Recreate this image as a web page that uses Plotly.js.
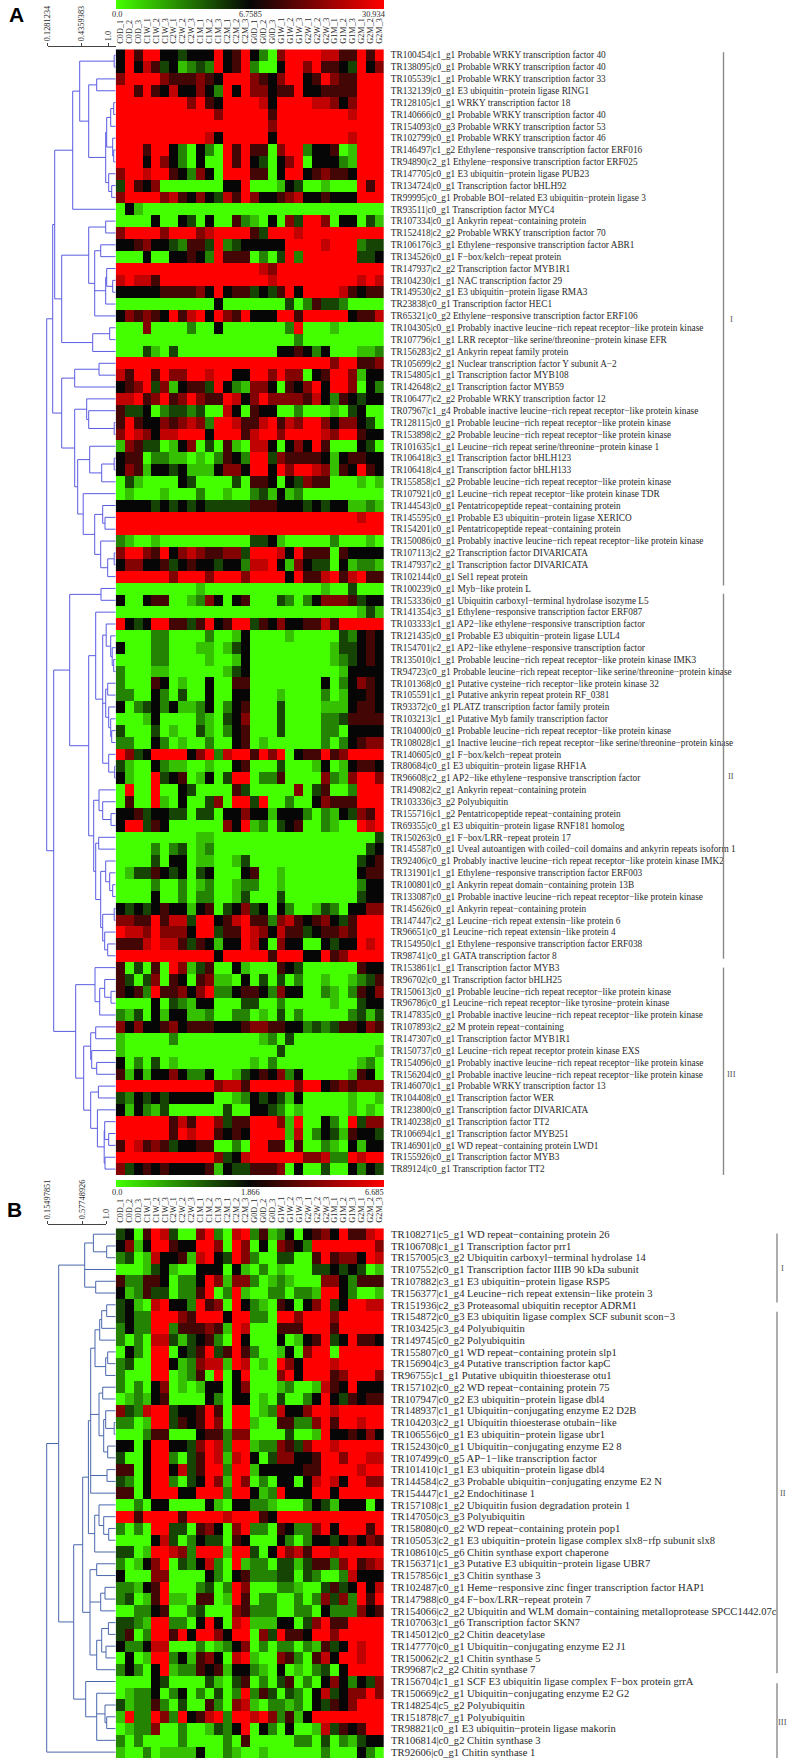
<!DOCTYPE html>
<html><head><meta charset="utf-8">
<script src="https://cdn.plot.ly/plotly-3.0.1.min.js"></script>
<style>html,body{margin:0;padding:0;background:#fff}#c{width:787px;height:1760px}</style>
</head><body><div id="c"></div>
<script>
const sampleNames=["C0D_1","C0D_2","C0D_3","C1W_1","C1W_2","C1W_3","C2W_1","C2W_2","C2W_3","C1M_1","C1M_2","C1M_3","C2M_1","C2M_2","C2M_3","G0D_1","G0D_2","G0D_3","G1W_1","G1W_2","G1W_3","G2W_1","G2W_2","G2W_3","G1M_1","G1M_2","G1M_3","G2M_1","G2M_2","G2M_3"];

const genesA=["TR100454|c1_g1 Probable WRKY transcription factor 40","TR138095|c0_g1 Probable WRKY transcription factor 40","TR105539|c1_g1 Probable WRKY transcription factor 33","TR132139|c0_g1 E3 ubiquitin-protein ligase RING1","TR128105|c1_g1 WRKY transcription factor 18","TR140666|c0_g1 Probable WRKY transcription factor 40","TR154093|c0_g3 Probable WRKY transcription factor 53","TR102799|c0_g1 Probable WRKY transcription factor 46","TR146497|c1_g2 Ethylene-responsive transcription factor ERF016","TR94890|c2_g1 Ethylene-responsive transcription factor ERF025","TR147705|c0_g1 E3 ubiquitin-protein ligase PUB23","TR134724|c0_g1 Transcription factor bHLH92","TR99995|c0_g1 Probable BOI-related E3 ubiquitin-protein ligase 3","TR93511|c0_g1 Transcription factor MYC4","TR107334|c0_g1 Ankyrin repeat-containing protein","TR152418|c2_g2 Probable WRKY transcription factor 70","TR106176|c3_g1 Ethylene-responsive transcription factor ABR1","TR134526|c0_g1 F-box/kelch-repeat protein","TR147937|c2_g2 Transcription factor MYB1R1","TR104230|c1_g1 NAC transcription factor 29","TR149530|c2_g1 E3 ubiquitin-protein ligase RMA3","TR23838|c0_g1 Transcription factor HEC1","TR65321|c0_g2 Ethylene-responsive transcription factor ERF106","TR104305|c0_g1 Probably inactive leucine-rich repeat receptor-like protein kinase","TR107796|c1_g1 LRR receptor-like serine/threonine-protein kinase EFR","TR156283|c2_g1 Ankyrin repeat family protein","TR105699|c2_g1 Nuclear transcription factor Y subunit A-2","TR154805|c1_g1 Transcription factor MYB108","TR142648|c2_g1 Transcription factor MYB59","TR106477|c2_g2 Probable WRKY transcription factor 12","TR07967|c1_g4 Probable inactive leucine-rich repeat receptor-like protein kinase","TR128115|c0_g1 Probable leucine-rich repeat receptor-like protein kinase","TR153898|c2_g2 Probable leucine-rich repeat receptor-like protein kinase","TR101635|c1_g1 Leucine-rich repeat serine/threonine-protein kinase 1","TR106418|c3_g1 Transcription factor bHLH123","TR106418|c4_g1 Transcription factor bHLH133","TR155858|c1_g2 Probable leucine-rich repeat receptor-like protein kinase","TR107921|c0_g1 Leucine-rich repeat receptor-like protein kinase TDR","TR144543|c0_g1 Pentatricopeptide repeat-containing protein","TR145595|c0_g1 Probable E3 ubiquitin-protein ligase XERICO","TR154201|c0_g1 Pentatricopeptide repeat-containing protein","TR150086|c0_g1 Probably inactive leucine-rich repeat receptor-like protein kinase","TR107113|c2_g2 Transcription factor DIVARICATA","TR147937|c2_g1 Transcription factor DIVARICATA","TR102144|c0_g1 Sel1 repeat protein","TR100239|c0_g1 Myb-like protein L","TR153336|c0_g1 Ubiquitin carboxyl-terminal hydrolase isozyme L5","TR141354|c3_g1 Ethylene-responsive transcription factor ERF087","TR103333|c1_g1 AP2-like ethylene-responsive transcription factor","TR121435|c0_g1 Probable E3 ubiquitin-protein ligase LUL4","TR154701|c2_g1 AP2-like ethylene-responsive transcription factor","TR135010|c1_g1 Probable leucine-rich repeat receptor-like protein kinase IMK3","TR94723|c0_g1 Probable leucine-rich repeat receptor-like serine/threonine-protein kinase","TR101368|c0_g1 Putative cysteine-rich receptor-like protein kinase 32","TR105591|c1_g1 Putative ankyrin repeat protein RF_0381","TR93372|c0_g1 PLATZ transcription factor family protein","TR103213|c1_g1 Putative Myb family transcription factor","TR104000|c0_g1 Probable leucine-rich repeat receptor-like protein kinase","TR108028|c1_g1 Inactive leucine-rich repeat receptor-like serine/threonine-protein kinase","TR140605|c0_g1 F-box/kelch-repeat protein","TR80684|c0_g1 E3 ubiquitin-protein ligase RHF1A","TR96608|c2_g1 AP2-like ethylene-responsive transcription factor","TR149082|c2_g1 Ankyrin repeat-containing protein","TR103336|c3_g2 Polyubiquitin","TR155716|c1_g2 Pentatricopeptide repeat-containing protein","TR69355|c0_g1 E3 ubiquitin-protein ligase RNF181 homolog","TR150263|c0_g1 F-box/LRR-repeat protein 17","TR145587|c0_g1 Uveal autoantigen with coiled-coil domains and ankyrin repeats isoform 1","TR92406|c0_g1 Probably inactive leucine-rich repeat receptor-like protein kinase IMK2","TR131901|c1_g1 Ethylene-responsive transcription factor ERF003","TR100801|c0_g1 Ankyrin repeat domain-containing protein 13B","TR133087|c0_g1 Probable inactive leucine-rich repeat receptor-like protein kinase","TR145626|c0_g1 Ankyrin repeat-containing protein","TR147447|c2_g1 Leucine-rich repeat extensin-like protein 6","TR96651|c0_g1 Leucine-rich repeat extensin-like protein 4","TR154950|c1_g1 Ethylene-responsive transcription factor ERF038","TR98741|c0_g1 GATA transcription factor 8","TR153861|c1_g1 Transcription factor MYB3","TR96702|c0_g1 Transcription factor bHLH25","TR150613|c0_g1 Probable leucine-rich repeat receptor-like protein kinase","TR96786|c0_g1 Leucine-rich repeat receptor-like tyrosine-protein kinase","TR147835|c0_g1 Probable inactive leucine-rich repeat receptor-like protein kinase","TR107893|c2_g2 M protein repeat-containing","TR147307|c0_g1 Transcription factor MYB1R1","TR150737|c0_g1 Leucine-rich repeat receptor protein kinase EXS","TR154096|c0_g1 Probably inactive leucine-rich repeat receptor-like protein kinase","TR156204|c0_g1 Probable inactive leucine-rich repeat receptor-like protein kinase","TR146070|c1_g1 Probable WRKY transcription factor 13","TR104408|c0_g1 Transcription factor WER","TR123800|c0_g1 Transcription factor DIVARICATA","TR140238|c0_g1 Transcription factor TT2","TR106694|c1_g1 Transcription factor MYB251","TR146901|c0_g1 WD repeat-containing protein LWD1","TR155926|c0_g1 Transcription factor MYB3","TR89124|c0_g1 Transcription factor TT2"];

const genesB=["TR108271|c5_g1 WD repeat-containing protein 26","TR106708|c1_g1 Transcription factor prr1","TR157005|c3_g2 Ubiquitin carboxyl-terminal hydrolase 14","TR107552|c0_g1 Transcription factor IIIB 90 kDa subunit","TR107882|c3_g1 E3 ubiquitin-protein ligase RSP5","TR156377|c1_g4 Leucine-rich repeat extensin-like protein 3","TR151936|c2_g3 Proteasomal ubiquitin receptor ADRM1","TR154872|c0_g3 E3 ubiquitin ligase complex SCF subunit scon-3","TR103425|c3_g4 Polyubiquitin","TR149745|c0_g2 Polyubiquitin","TR155807|c0_g1 WD repeat-containing protein slp1","TR156904|c3_g4 Putative transcription factor kapC","TR96755|c1_g1 Putative ubiquitin thioesterase otu1","TR157102|c0_g2 WD repeat-containing protein 75","TR107947|c0_g2 E3 ubiquitin-protein ligase dbl4","TR148937|c1_g1 Ubiquitin-conjugating enzyme E2 D2B","TR104203|c2_g1 Ubiquitin thioesterase otubain-like","TR106556|c0_g1 E3 ubiquitin-protein ligase ubr1","TR152430|c0_g1 Ubiquitin-conjugating enzyme E2 8","TR107499|c0_g5 AP-1-like transcription factor","TR101410|c1_g1 E3 ubiquitin-protein ligase dbl4","TR144584|c2_g3 Probable ubiquitin-conjugating enzyme E2 N","TR154447|c1_g2 Endochitinase 1","TR157108|c1_g2 Ubiquitin fusion degradation protein 1","TR147050|c3_g3 Polyubiquitin","TR158080|c0_g2 WD repeat-containing protein pop1","TR105053|c2_g1 E3 ubiquitin-protein ligase complex slx8-rfp subunit slx8","TR108610|c5_g6 Chitin synthase export chaperone","TR156371|c1_g3 Putative E3 ubiquitin-protein ligase UBR7","TR157856|c1_g3 Chitin synthase 3","TR102487|c0_g1 Heme-responsive zinc finger transcription factor HAP1","TR147988|c0_g4 F-box/LRR-repeat protein 7","TR154066|c2_g2 Ubiquitin and WLM domain-containing metalloprotease SPCC1442.07c","TR107063|c1_g6 Transcription factor SKN7","TR145012|c0_g2 Chitin deacetylase","TR147770|c0_g1 Ubiquitin-conjugating enzyme E2 J1","TR150062|c2_g1 Chitin synthase 5","TR99687|c2_g2 Chitin synthase 7","TR156704|c1_g1 SCF E3 ubiquitin ligase complex F-box protein grrA","TR150669|c2_g1 Ubiquitin-conjugating enzyme E2 G2","TR148254|c5_g2 Polyubiquitin","TR151878|c7_g1 Polyubiquitin","TR98821|c0_g1 E3 ubiquitin-protein ligase makorin","TR106814|c0_g2 Chitin synthase 3","TR92606|c0_g1 Chitin synthase 1"];

// expression levels per gene and sample: 0 = lowest (green), 4 = middle (black), 8 = highest (red)
const levelsA=[
"485884434448458420688887755858","484753412328458200488685543846","688886555654888654688458655888","885854744642848664558445555888",
"888888886854888874888877646888","888888888886888885888888887888","888888888888888886888888888888","888888888874888884888888887888",
"888588420420858550688244501888","888486420400858430468044421888","688788542640888550488456554888","385460000000448000143001000858",
"688886754643758644567445444888","041000000000000000000000000000","000040043040052104063886044031","688886888678888538887888888888",
"445644325538234444488887888233","000400445428555020382888888334","888888888888888876888888888888","787758888888888887888888888787",
"444445555648455343584888875455","000000000004000000030253320000","465654857848658444885888884557","000600002004000000028000100000",
"000000000000000000002000000000","000310300000000000445424000112","888888888888888888888888688556","758858668878844886866045886144",
"456836145538421664054684886042","778568568655874686666574254344","533402332300740544002000103400","585446567628875578576886466430",
"687647788848885788688887688544","165330146030510774046485000430","455022110102542883655554145544","465144341114664884868876154854",
"031000043000030554043655000101","010001000200100231412000000000","444434343433333555444343441121","888888888888888888888888888788",
"888888888888888888888888888888","210010000000000334100000200010","688658467655663888748555054444","466445345443442778416433041221",
"888888688868886888848557857855","000000000100000000000001003000","400455001264045000320246665344","000000000000000000000000000131",
"843488553584588354644557588888","000022000020014000010000032454","400022000110134000000000133454","000022000010014000000000123454",
"200011000000134000000000014444","200054010040055000000004024654","220042030040044000100002014454","402342411240245000300001114554",
"000140000210346000300002235555","300030100310245000300002204444","220042010020045010000002024566","863488884682788586804558568888",
"310042110010045000300014014554","410083450140388022500006216886","080080043000053000006035002888","050081040036088380020046555888",
"445344330330446441444202143658","488354000000648120345002100878","000000000110000000000000000003","000020230120000000000000000034",
"000030440110013000000000000345","013354340340004500100000000455","000020020120012200100000000244","000040020220013000300000000344",
"434345441450346340420013204466","665585773884578552675456435888","877686664883558764755345565888","555787753541448740644004344878",
"888888888884888885888448568888","503050861350041000543000000544","530360540561104030302001001235","545285564682245542644002102546",
"000040321440003300200000100344","213041441120022010302000002313","646445645554445665544232355465","100000200000000012030000000000",
"100000000000000000300000000001","402030100000000102000000000120","514144642240013454624000001540","888888888886775888886884565666",
"324343444440012434314000001001","414213000000300443201000001010","888888575886355888618004208366","888888587885454888817024315443",
"587565344550020885505002104144","888888888886347888888667228788","634545444451433555604003004243"];

const levelsB=[
"340587300682078251240456485578","461488544886086040654288888886","230174451784386200330058566487","000134100444041020100033434301",
"522554022486166201210006642555","412533022580281002202218842001","341078442856084210540468348877","342288865888488220886888688888",
"242288255565187000555888588888","202077313452084000401458348554","042088043583585200140688088888","230088412677187010864888788888",
"200088012508048000684888568886","202046010144046000120017548444","012145000042044010300248435455","632788344585088012744688788888",
"220188354586088100552268588788","000255000455266000030018445464","440488443687288122653688788888","300488203587178403664458868877",
"550488473588288144444558888788","320488203486186020440478748866","550488844888288412844488488888","002044000041044221000243144404",
"885888858888788854888888888888","202088330564068220542268488858","000047302433054000420244346465","330188762888188304867588788888",
"201468032472081220331355268567","400066000042045222330320027444","221458000230286000221003534847","230158110550185022002026362858",
"002245002300065222002204222645","332188220484078111440368558888","350288584886488063855488688888","422477000201246020220215348788",
"040188241564078100652057488788","242048122545144210401023048888","000043000031035020350204642436","012240240203028253032047346686",
"312252030052067102212043546888","182286284578288786251488888888","012260020013248042040017354588","202000020000205000002203021344",
"100201111400210010000002000420"];

// dendrograms: [merge height, child, child, ...]; a plain number is a gene index
const treeA=[69,
 [63,
  [61,
   [43,[36,[1.5,0,1],[27,[19,2,3],[10,[9,[5,[2,4,5],6],[3,7,[2,8,9]]],[7,10,[4,11,12]]]]],13],
   [54,[27,[10,14,15],[21,[15,16,17],[10,[9,18,[3,19,20]],21],22]],[23,[6,23,24],25]]],
  [54,[41,[16.7,26,27],28],
   [41,[29,29,[27,30,[1.5,31,32]]],
    [38,[26,33,[14,[1.5,34,35],36]],
     [32.5,37,[21,[13,38,[10.7,39,40]],[15,41,[8,[1.5,42,43],44]]]]]]]],
 [62,
  [46,[14.7,45,46],
   [27,[20,47,[13,[9.5,48,[5,49,[3.5,50,[2,51,52]]]],[10,[8,53,54],[7,55,[5,56,[4,57,58]]]],[7,59,[1,60,61]]]],
    [22,[16.7,62,[13,63,[4.7,64,65]]],
     [20,[17,66,67],[15,[10,68,[6,69,[3,70,71]]],[13,[1.5,72,73],[11,74,[8,75,76]]]]]]]],
  [40,[20.7,77,[16,[11,78,[4.7,79,80]],81]],
   [32,[25,[20,82,83],[24,84,[19,85,86]]],
    [25,[17.3,87,88],[18.3,89,[11.5,[11,90,[7,91,92]],[10.7,93,94]]]]]]]];
const treeB=[69,
 [57,
  [31,[22.3,0,[9,1,2]],3,[20,4,5]],
  [42,
   [33,
    [27.3,
     [25,[20.7,[16,[14,[9,6,7],8],9],[10,[8,10,11],12]],[16.7,[13,13,14],[12,[10,15,[1.5,16,17]],[8,18,19]]],[8.7,20,21],22],
     [21,[16.7,23,[12,24,[7,25,26]]],27]],
    [25.7,[19,28,29],[15,[10.7,30,31],32],[19,[14,[7.3,33,34],[9.7,35,36]],37]]],
   [30,38,[19,39,[10.7,40,[9,41,42]],43]]]],
 44];

const colorTicksA=["0.0","6.7585","30.934"];
const colorTicksB=["0.0","1.866","6.685"];
const scaleTicksA=["0.1281234","0.4359383","1.0"];
const scaleTicksB=["0.15497851","0.57748926","1.0"];
const clustersA=[["I",-0.25,44.75],["II",45.45,76.25],["III",77,94.95]];
const clustersB=[["I",-0.05,5.8],["II",6.6,37.3],["III",38.15,44.8]];

const W=787,H=1760;
const px=v=>v/W, py=v=>1-v/H;
const SERIF='"Liberation Serif","Times New Roman",serif';
const TXT='#2a2a2a';
const cs=[[0,'#44ff00'],[0.5,'#060606'],[1,'#ff0000']];
const show=s=>s.replace(/-/g,'\u2212');

function segs(tree){
  const xs=[],ys=[];
  (function walk(n){
    if(typeof n==='number') return {y:n,h:0};
    const h=n[0], rs=n.slice(1).map(walk);
    rs.forEach(r=>{xs.push(r.h,h,null);ys.push(r.y,r.y,null);});
    const a=rs[0].y,b=rs[rs.length-1].y;
    xs.push(h,h,null);ys.push(a,b,null);
    return {y:(a+b)/2,h};
  })(tree);
  return {x:xs,y:ys};
}
const grid=rows=>rows.map(r=>Array.from({length:30},(_,i)=>Number(r[i])));

function panel(o){
  const ax=o.n, xH='x'+(ax===1?'':ax), yH='y'+(ax===1?'':ax);
  const xD='x'+(ax+1), xS='x'+(ax+2), yS='y'+(ax+2);
  const rows=o.levels.length;
  const domY=[py(o.bottom),py(o.top)];
  const d=segs(o.tree);
  const traces=[
   {type:'heatmap',z:grid(o.levels),x:sampleNames,y:o.genes.map((_,i)=>i),xaxis:xH,yaxis:yH,
    colorscale:cs,zmin:0,zmax:8,hoverinfo:'skip',xgap:0,ygap:0,
    colorbar:{orientation:'h',lenmode:'pixels',len:268.3,thicknessmode:'pixels',thickness:o.barH,
      x:px(115.7),xanchor:'left',y:py(o.barTop+o.barH),yanchor:'bottom',xpad:0,ypad:0,
      outlinewidth:0,showticklabels:false,ticks:''}},
   {type:'scatter',mode:'lines',x:d.x,y:d.y,xaxis:xD,yaxis:yH,hoverinfo:'skip',showlegend:false,
    line:{color:o.treeColor,width:1}},
   {type:'scatter',mode:'lines',x:o.scaleVals,y:[0,0,0],xaxis:xS,yaxis:yS,hoverinfo:'skip',showlegend:false,
    line:{color:'rgba(0,0,0,0)',width:0}}
  ];
  const lay={};
  const k=s=>s.replace('x','xaxis').replace('y','yaxis');
  lay[k(xH)]={domain:[px(115.7),px(384)],anchor:yH,side:'top',type:'category',tickmode:'array',
    tickvals:sampleNames,ticktext:sampleNames,tickangle:-90,tickfont:{family:SERIF,size:8.2,color:TXT},
    ticks:'outside',ticklen:3,tickcolor:'rgba(0,0,0,0)',showgrid:false,zeroline:false,showline:false,automargin:false};
  lay[k(yH)]={domain:domY,range:[rows-0.5,-0.5],anchor:xH,side:'right',tickmode:'array',
    tickvals:o.genes.map((_,i)=>i),ticktext:o.genes.map(show),
    tickfont:{family:SERIF,size:o.labelSize,color:TXT},ticks:'outside',ticklen:4,tickcolor:'rgba(0,0,0,0)',
    showgrid:false,zeroline:false,showline:false,automargin:false};
  lay[k(xD)]={domain:[0,px(115.7)],range:[115.7,0],anchor:yH,visible:false,showgrid:false,zeroline:false};
  lay[k(xS)]={domain:[px(47.5),px(o.scaleEnd)],range:[o.scaleEnd-47.5,0],anchor:yS,side:'top',
    tickmode:'array',tickvals:o.scaleVals,ticktext:o.scaleText,tickangle:-90,
    tickfont:{family:SERIF,size:8.4,color:TXT},ticks:'outside',ticklen:3,tickcolor:'#444',tickwidth:1,
    showline:true,linecolor:'#444',linewidth:1,showgrid:false,zeroline:false,automargin:false};
  lay[k(yS)]={domain:[py(o.scaleY+1),py(o.scaleY)],range:[0,1],anchor:xS,visible:false};

  const shapes=o.clusters.map(c=>({type:'line',xref:'paper',yref:yH,x0:px(o.bracketX),x1:px(o.bracketX),y0:c[1],y1:c[2],
     line:{color:'#8a8a8a',width:1.4}}));
  const notes=o.clusters.map((c,i)=>({xref:'paper',yref:yH,x:px(o.romanX),y:(c[1]+c[2])/2,text:c[0],showarrow:false,
     xanchor:'center',yanchor:'middle',font:{family:SERIF,size:8.5,color:'#555'}}));
  const tickXs=[117.5,250.5,374];
  o.colorTicks.forEach((t,i)=>notes.push({xref:'paper',yref:'paper',x:px(tickXs[i]),y:py(o.barLabelY),text:t,showarrow:false,
     xanchor:'center',yanchor:'middle',font:{family:SERIF,size:8.3,color:TXT}}));
  notes.push({xref:'paper',yref:'paper',x:px(o.letterX),y:py(o.letterY),text:'<b>'+o.letter+'</b>',showarrow:false,
     xanchor:'center',yanchor:'middle',font:{family:'"Liberation Sans",Arial,sans-serif',size:21,color:'#000'}});
  return {traces,lay,shapes,notes};
}

const pA=panel({n:1,genes:genesA,levels:levelsA,tree:treeA,treeColor:'#5a5ce2',top:49.3,bottom:1175,barTop:0,barH:9,barLabelY:14.5,
  labelSize:9.3,scaleEnd:115.5,scaleY:47,scaleVals:[68,34,7.5],scaleText:scaleTicksA,colorTicks:colorTicksA,clusters:clustersA,
  bracketX:723.5,romanX:731,letter:'A',letterX:16.5,letterY:14.5});
const pB=panel({n:4,genes:genesB,levels:levelsB,tree:treeB,treeColor:'#4a68ad',top:1228.3,bottom:1758,barTop:1180,barH:6.5,barLabelY:1192,
  labelSize:10.6,scaleEnd:106,scaleY:1225,scaleVals:[58.5,24,0],scaleText:scaleTicksB,colorTicks:colorTicksB,clusters:clustersB,
  bracketX:777,romanX:782.5,letter:'B',letterX:14.5,letterY:1209.5});

Plotly.newPlot('c',[...pA.traces,...pB.traces],Object.assign({
  width:W,height:H,margin:{l:0,r:0,t:0,b:0,pad:0},paper_bgcolor:'#fff',plot_bgcolor:'#fff',showlegend:false,
  shapes:[...pA.shapes,...pB.shapes],annotations:[...pA.notes,...pB.notes]
},pA.lay,pB.lay),{displayModeBar:false,staticPlot:true});
</script></body></html>
